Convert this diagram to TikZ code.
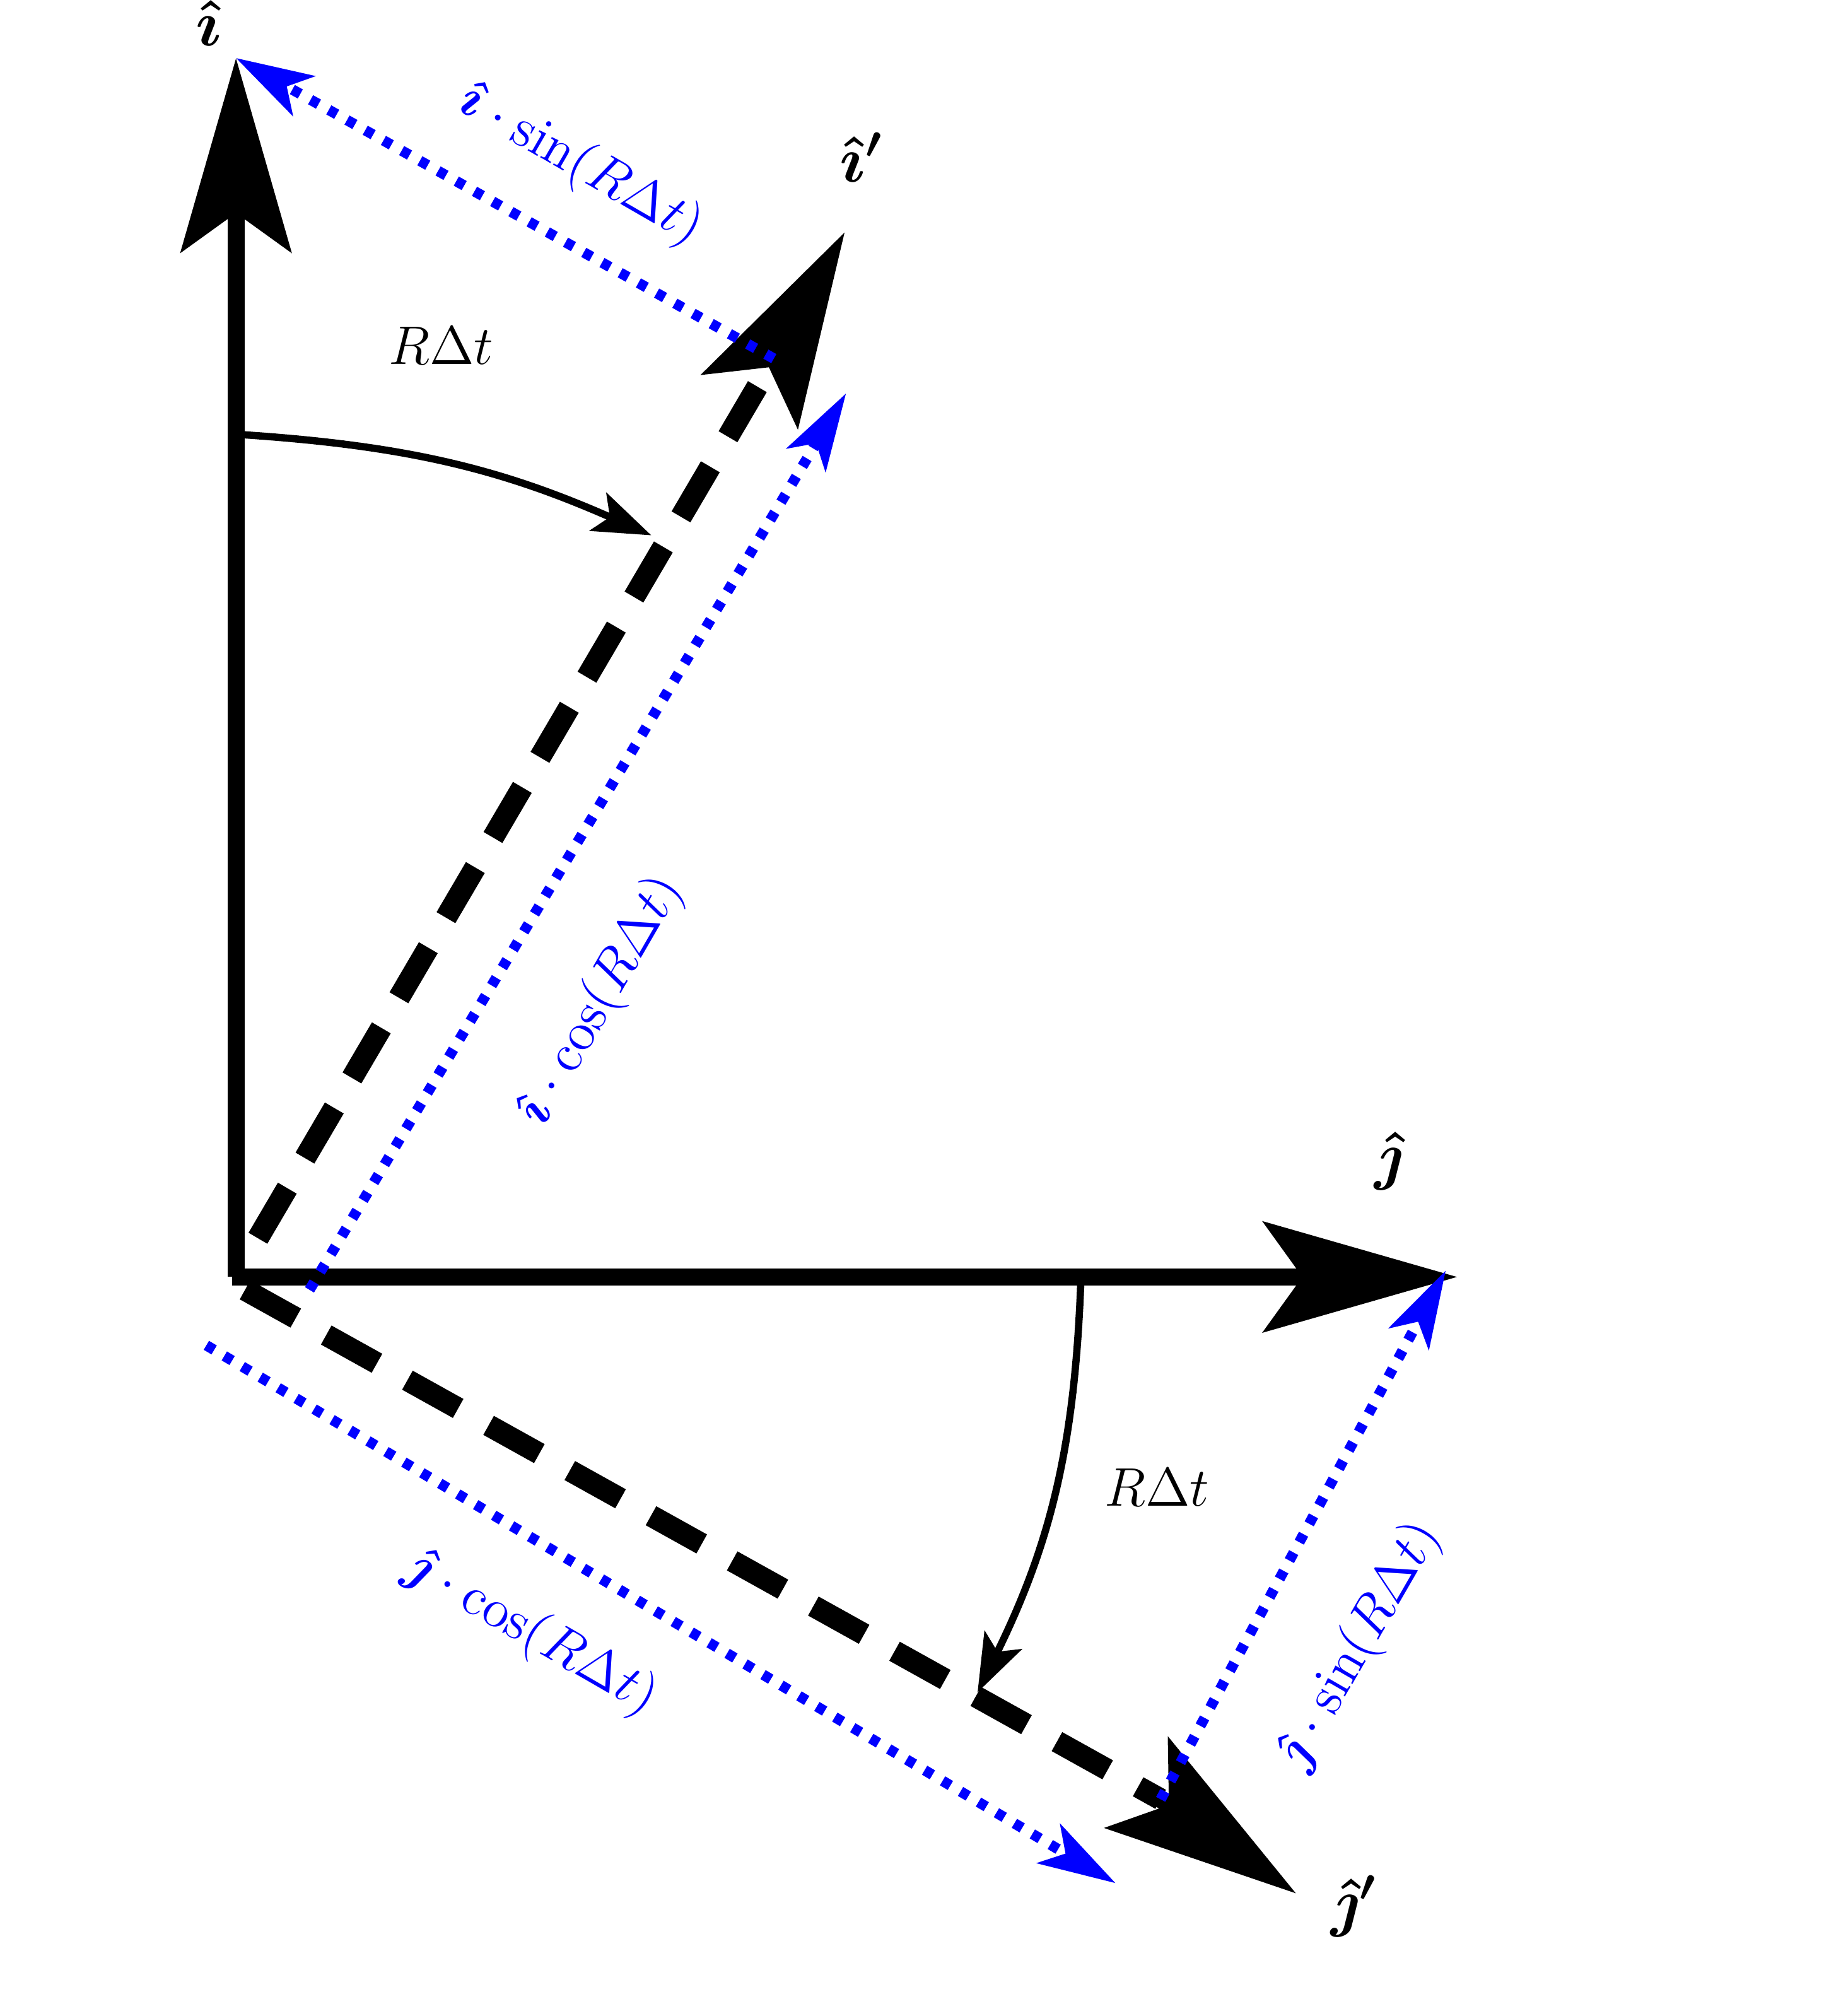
\documentclass[tikz,border=0pt]{standalone}
\usepackage{bm}
\usetikzlibrary{arrows.meta}
\begin{document}
\begin{tikzpicture}[x=0.01cm,y=-0.01cm,
  axis/.style={line width=3.8pt,-{Stealth[length=1.5cm,width=0.85cm,inset=0.3cm]}},
  dsh/.style={line width=4.8pt,dash pattern=on 0.45cm off 0.27cm},
  proj/.style={blue,line width=2.3pt,dash pattern=on 2pt off 2.6pt,-{Stealth[length=0.6cm,width=0.35cm,inset=0.15cm]}},
  arc/.style={line width=1.6pt,-{Stealth[length=0.45cm,width=0.32cm,inset=0.1cm]}},
  lbl/.style={font=\Large},
  rlbl/.style={font=\large},
  blbl/.style={font=\large,text=blue}]
\useasboundingbox (0,0) rectangle (1414,1563);
\coordinate (O) at (183,990);
\coordinate (I) at (183,45);
\coordinate (J) at (1130,990);
\coordinate (Ip) at (655,180);
\coordinate (Jp) at (1005,1468);
\coordinate (Id) at (600,278);
\coordinate (Jd) at (900,1395);
\coordinate (Is) at (200,960);
\coordinate (Js) at (190,1000);
\draw[axis] (O) -- (I);
\draw[axis] (180,990) -- (J);
\draw[dsh] (Is) -- (Id);
\draw[dsh] (Js) -- (Jd);
\draw[line width=3.8pt,-{Stealth[length=1.5cm,width=0.85cm,inset=0.3cm]}] (Id) -- (Ip);
\draw[line width=3.8pt,-{Stealth[length=1.5cm,width=0.85cm,inset=0.3cm]}] (Jd) -- (Jp);
\coordinate (c1) at (240,1000);
\coordinate (c2) at (656,305);
\coordinate (s2) at (1121,985);
\coordinate (d1) at (160,1043);
\coordinate (d2) at (865,1460);
\draw[proj] (Id) -- (I);
\draw[proj] (c1) -- (c2);
\draw[proj] (Jd) -- (s2);
\draw[proj] (d1) -- (d2);
\coordinate (a1) at (188,337);
\coordinate (a2) at (505,415);
\coordinate (b1) at (838,995);
\coordinate (b2) at (758,1312);
\draw[arc] (a1) to[bend left=10] (a2);
\draw[arc] (b1) to[bend left=12] (b2);
\node[lbl] (li) at (162,18) {$\bm{\hat{\imath}}$};
\node[lbl] (lip) at (668,122) {$\bm{\hat{\imath}'}$};
\node[lbl] (lj) at (1077,900) {$\bm{\hat{\jmath}}$};
\node[lbl] (ljp) at (1050,1478) {$\bm{\hat{\jmath}'}$};
\node[rlbl] (r1) at (342,268) {$R\Delta t$};
\node[rlbl] (r2) at (897,1153) {$R\Delta t$};
\node[blbl,rotate=-30] (t1) at (450,128) {$\bm{\hat{\imath}}\cdot\sin(R\Delta t)$};
\node[blbl,rotate=60] (t2) at (466,776) {$\bm{\hat{\imath}}\cdot\cos(R\Delta t)$};
\node[blbl,rotate=-30] (t3) at (412,1266) {$\bm{\hat{\jmath}}\cdot\cos(R\Delta t)$};
\node[blbl,rotate=60] (t4) at (1054,1276) {$\bm{\hat{\jmath}}\cdot\sin(R\Delta t)$};
\end{tikzpicture}
\end{document}
